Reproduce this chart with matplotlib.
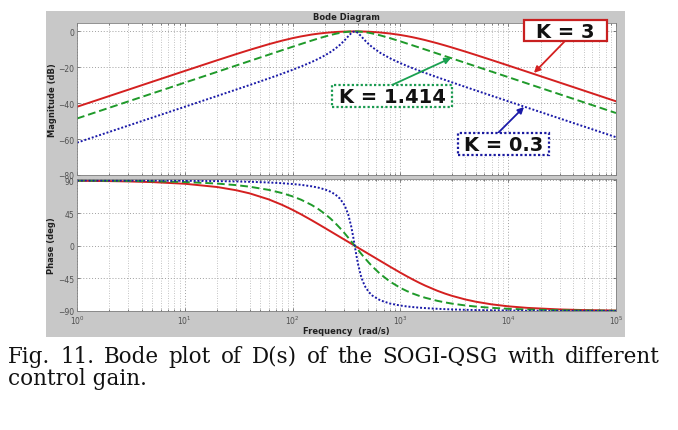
import numpy as np
import matplotlib
matplotlib.use("Agg")
import matplotlib.pyplot as plt
from matplotlib.patches import Rectangle
from matplotlib.ticker import LogLocator, FixedLocator, NullFormatter, FuncFormatter

# ---------------- data ----------------
freq = [1, 2, 3, 5, 10, 20, 30, 40, 60, 80, 100, 120, 150, 175, 200, 225, 250, 275, 300,
        315, 330, 350, 365, 377, 390, 405, 430, 450, 475, 510, 550, 650, 800, 1000, 1150,
        1300, 1500, 1700, 2200, 2600, 3000, 4000, 5000, 7000, 10000, 15000, 30000, 50000,
        100000]

mag_k3 = [-41.98, -35.97, -32.45, -28.01, -22.01, -16.05, -12.63, -10.27, -7.13, -5.12,
          -3.74, -2.76, -1.75, -1.20, -0.81, -0.53, -0.33, -0.19, -0.10, -0.06, -0.03,
          -0.01, 0.0, 0.0, 0.0, -0.01, -0.03, -0.06, -0.10, -0.18, -0.28, -0.59, -1.15,
          -1.97, -2.61, -3.24, -4.06, -4.83, -6.59, -7.83, -8.93, -11.23, -13.08, -15.92,
          -18.97, -22.47, -28.48, -32.91, -38.93]
mag_k1414 = [-48.52, -42.50, -38.97, -34.54, -28.52, -22.50, -18.98, -16.48, -12.96,
             -10.46, -8.54, -6.98, -5.10, -3.85, -2.83, -1.99, -1.33, -0.81, -0.44, -0.28,
             -0.15, -0.05, -0.01, 0.0, -0.01, -0.04, -0.15, -0.27, -0.45, -0.75, -1.14,
             -2.19, -3.73, -5.55, -6.73, -7.77, -9.00, -10.08, -12.32, -13.77, -15.01,
             -17.51, -19.44, -22.37, -25.46, -28.99, -35.01, -39.44, -45.46]
mag_k03 = [-61.98, -55.96, -52.44, -48.00, -41.98, -35.94, -32.39, -29.85, -26.21, -23.54,
           -21.38, -19.52, -17.05, -15.15, -13.30, -11.44, -9.51, -7.46, -5.26, -3.89,
           -2.54, -0.96, -0.20, 0.0, -0.22, -0.89, -2.49, -3.82, -5.34, -7.15, -8.84,
           -11.92, -14.95, -17.67, -19.21, -20.49, -21.91, -23.12, -25.53, -27.05, -28.34,
           -30.90, -32.86, -35.81, -38.92, -42.45, -48.47, -52.91, -58.93]

ph_k3 = [89.54, 89.09, 88.63, 87.72, 85.45, 80.93, 76.49, 72.16, 63.90, 56.31, 49.44,
         43.26, 35.19, 29.40, 24.30, 19.78, 15.73, 12.07, 8.73, 6.87, 5.09, 2.84, 1.24,
         0.0, -1.29, -2.74, -5.03, -6.76, -8.83, -11.56, -14.46, -20.87, -28.82, -37.18,
         -42.22, -46.47, -51.17, -55.02, -62.09, -66.05, -69.04, -74.08, -77.18, -80.80,
         -83.54, -85.69, -87.84, -88.70, -89.35]
ph_k1414 = [89.79, 89.57, 89.36, 88.93, 87.85, 85.70, 83.54, 81.37, 77.0, 72.56, 68.02,
            63.40, 56.24, 50.08, 43.77, 37.34, 30.86, 24.40, 18.05, 14.33, 10.70, 6.01,
            2.62, 0.0, -2.75, -5.79, -10.57, -14.13, -18.25, -23.46, -28.68, -38.98,
            -49.41, -58.15, -62.55, -65.88, -69.22, -71.75, -75.98, -78.17, -79.77,
            -82.34, -83.88, -85.63, -86.94, -87.96, -88.98, -89.39, -89.69]
ph_k03 = [89.95, 89.91, 89.86, 89.77, 89.54, 89.09, 88.62, 88.16, 87.2, 86.19, 85.11,
          83.93, 81.93, 79.93, 77.51, 74.46, 70.45, 64.93, 56.94, 50.30, 41.68, 26.38,
          12.17, 0.0, -12.74, -25.55, -41.33, -49.87, -57.25, -63.94, -68.80, -75.31,
          -79.70, -82.49, -83.71, -84.57, -85.40, -86.00, -86.97, -87.46, -87.81, -88.37,
          -88.70, -89.07, -89.35, -89.57, -89.78, -89.87, -89.94]

labels = ["K = 3", "K = 1.414", "K = 0.3"]
mag_ticks = [0, -20, -40, -60, -80]
ph_ticks = [90, 45, 0, -45, -90]

# ---------------- figure ----------------
W, H = 678, 431
fig = plt.figure(figsize=(W / 100, H / 100), dpi=100)
fig.patch.set_facecolor("white")

def fx(px):
    return px / W

def fy(py):
    return 1 - py / H

# gray MATLAB panel
fig.add_artist(Rectangle((fx(46), fy(338)), fx(625) - fx(46), fy(12) - fy(338),
                         transform=fig.transFigure, facecolor="#c8c8c8",
                         edgecolor="none", zorder=-10))

ax1 = fig.add_axes([fx(77), fy(176), fx(616) - fx(77), fy(24) - fy(176)])
ax2 = fig.add_axes([fx(77), fy(312), fx(616) - fx(77), fy(180) - fy(312)])

red = "#d42020"
green = "#1f9a2a"
blue = "#1a1aa8"

ax1.plot(freq, mag_k3, color=red, lw=1.4, ls="-")
ax1.plot(freq, mag_k1414, color=green, lw=1.4, ls=(0, (4, 2)))
ax1.plot(freq, mag_k03, color=blue, lw=1.4, ls=(0, (1, 1)))
ax2.plot(freq, ph_k3, color=red, lw=1.4, ls="-")
ax2.plot(freq, ph_k1414, color=green, lw=1.4, ls=(0, (4, 2)))
ax2.plot(freq, ph_k03, color=blue, lw=1.4, ls=(0, (1, 1)))

tick_col = "#505050"
for ax in (ax1, ax2):
    ax.set_xscale("log")
    ax.set_xlim(1, 1e5)
    ax.set_facecolor("white")
    ax.xaxis.set_major_locator(LogLocator(base=10, numticks=10))
    ax.xaxis.set_minor_locator(LogLocator(base=10, subs=np.arange(2, 10), numticks=20))
    ax.xaxis.set_minor_formatter(NullFormatter())
    ax.grid(True, which="major", color="#a0a0a0", ls=(0, (1, 2)), lw=0.7)
    ax.grid(True, which="minor", axis="x", color="#b0b0b0", ls=(0, (1, 2)), lw=0.6)
    ax.tick_params(which="both", direction="in", top=True, right=True,
                   colors=tick_col, labelsize=5.5, length=2.5, width=0.5, pad=2)
    ax.tick_params(which="minor", length=1.5)
    for s in ax.spines.values():
        s.set_color("#808080")
        s.set_linewidth(0.6)

ax1.set_ylim(-80, 4.7)
ax1.yaxis.set_major_locator(FixedLocator(mag_ticks))
ax1.tick_params(axis="x", labelbottom=False)
ax2.set_ylim(-90, 92)
ax2.yaxis.set_major_locator(FixedLocator(ph_ticks))
ax2.xaxis.set_major_formatter(FuncFormatter(lambda v, p: r"$10^{%d}$" % round(np.log10(v))))

ax1.set_ylabel("Magnitude (dB)", fontsize=6, fontweight="bold", color="#202020")
ax2.set_ylabel("Phase (deg)", fontsize=6, fontweight="bold", color="#202020")
ax1.yaxis.set_label_coords((57 - 77) / (616 - 77), 0.5)
ax2.yaxis.set_label_coords((56 - 77) / (616 - 77), 0.5)
fig.text(fx(346), fy(17), "Bode Diagram", fontsize=6, fontweight="bold",
         ha="center", va="center", color="#202020")
fig.text(fx(346), fy(332), "Frequency  (rad/s)", fontsize=6, fontweight="bold",
         ha="center", va="center", color="#202020")

# ---------------- annotations ----------------
def label_box(x0, y0, x1, y1, text, ec, ls):
    fig.add_artist(Rectangle((fx(x0), fy(y1)), fx(x1) - fx(x0), fy(y0) - fy(y1),
                             transform=fig.transFigure, facecolor="white",
                             edgecolor=ec, lw=1.6, ls=ls, zorder=5))
    fig.text(fx((x0 + x1) / 2), fy((y0 + y1) / 2 + 0.5), text, fontsize=14,
             fontweight="bold", ha="center", va="center", color="#111111", zorder=6)

def arrow(tip, start, col):
    ax1.annotate("", xy=tip, xycoords="data",
                 xytext=(start[0], H - start[1]), textcoords="figure pixels",
                 arrowprops=dict(arrowstyle="-|>", color=col, lw=1.3, mutation_scale=9,
                                 shrinkA=0, shrinkB=0), annotation_clip=False)

arrow((17340, -23.1), (565, 42), red)
arrow((2946, -14.8), (392, 86), "#1aa050")
arrow((14020, -42.1), (498, 134), blue)

label_box(524, 21, 607, 42, labels[0], "#c82020", "-")
label_box(332, 86, 452, 108, labels[1], "#1a9a50", (0, (1, 1)))
label_box(458, 134, 549, 156, labels[2], "#1a1aa0", (0, (1, 1)))

# ---------------- caption (justified first line) ----------------
line1 = "Fig. 11. Bode plot of D(s) of the SOGI-QSG with different".split(" ")
cap_kw = dict(fontsize=15.5, family="DejaVu Serif", color="#111111", va="baseline", ha="left")
renderer = fig.canvas.get_renderer()
words = [fig.text(0, fy(363), w, **cap_kw) for w in line1]
widths = [w.get_window_extent(renderer).width for w in words]
x_left, x_right = 8, 660
gap = (x_right - x_left - sum(widths)) / (len(words) - 1)
xpos = x_left
for t, wd in zip(words, widths):
    t.set_x(fx(xpos))
    xpos += wd + gap
fig.text(fx(8), fy(385), "control gain.", **cap_kw)

fig.savefig("out.png", dpi=100, facecolor="white")
